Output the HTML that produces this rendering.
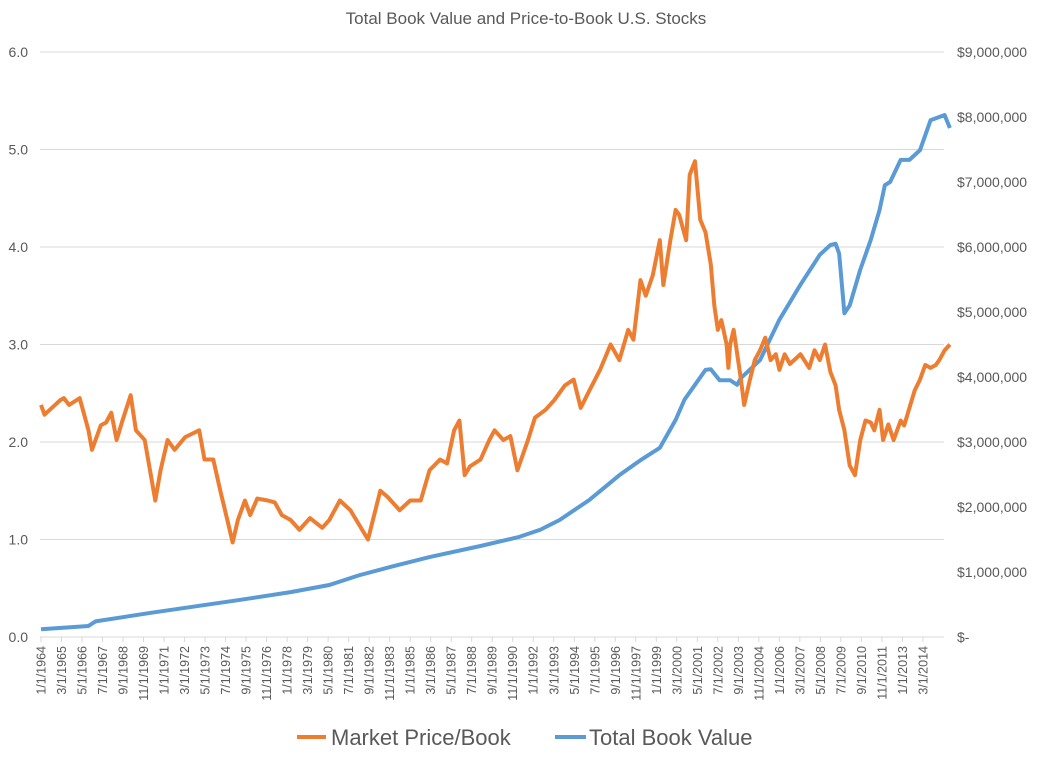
<!DOCTYPE html>
<html><head><meta charset="utf-8"><style>
body{margin:0;background:#fff;}
svg{display:block;font-family:"Liberation Sans",sans-serif;}
</style></head><body>
<svg id="chart" width="1062" height="761">
<text x="526" y="24" text-anchor="middle" font-size="17" fill="#595959">Total Book Value and Price-to-Book U.S. Stocks</text>
<g id="grid"></g><g id="ticks"></g><g id="lines"></g>
<g>
<line x1="297" y1="737" x2="326" y2="737" stroke="#ED7D31" stroke-width="4"/>
<text x="331" y="745" font-size="22" fill="#595959">Market Price/Book</text>
<line x1="555" y1="737" x2="586" y2="737" stroke="#5B9BD5" stroke-width="4"/>
<text x="589" y="745" font-size="22" fill="#595959">Total Book Value</text>
</g>
</svg>
<script>
const leftTicks=[0,1,2,3,4,5,6];
const rightTicks=["$-","$1,000,000","$2,000,000","$3,000,000","$4,000,000","$5,000,000","$6,000,000","$7,000,000","$8,000,000","$9,000,000"];
const xLabels=["1/1/1964","3/1/1965","5/1/1966","7/1/1967","9/1/1968","11/1/1969","1/1/1971","3/1/1972","5/1/1973","7/1/1974","9/1/1975","11/1/1976","1/1/1978","3/1/1979","5/1/1980","7/1/1981","9/1/1982","11/1/1983","1/1/1985","3/1/1986","5/1/1987","7/1/1988","9/1/1989","11/1/1990","1/1/1992","3/1/1993","5/1/1994","7/1/1995","9/1/1996","11/1/1997","1/1/1999","3/1/2000","5/1/2001","7/1/2002","9/1/2003","11/1/2004","1/1/2006","3/1/2007","5/1/2008","7/1/2009","9/1/2010","11/1/2011","1/1/2013","3/1/2014"];
const pbDates=[1964.0,1964.2,1965.1,1965.3,1965.6,1966.2,1966.7,1966.9,1967.4,1967.7,1968.0,1968.3,1968.6,1969.1,1969.4,1969.9,1970.5,1970.8,1971.2,1971.6,1972.2,1973.0,1973.3,1973.8,1974.2,1974.6,1974.9,1975.2,1975.6,1975.9,1976.3,1976.9,1977.3,1977.7,1978.2,1978.7,1979.3,1980.0,1980.4,1981.0,1981.6,1982.1,1982.6,1983.3,1983.7,1984.4,1985.0,1985.6,1986.1,1986.7,1987.1,1987.5,1987.8,1988.1,1988.4,1989.0,1989.5,1989.8,1990.3,1990.7,1991.1,1991.7,1992.1,1992.7,1993.2,1993.8,1994.3,1994.7,1995.2,1995.8,1996.4,1996.9,1997.4,1997.7,1998.1,1998.4,1998.8,1999.2,1999.4,1999.8,2000.1,2000.3,2000.7,2000.9,2001.2,2001.5,2001.8,2002.1,2002.3,2002.5,2002.7,2003.0,2003.1,2003.2,2003.4,2003.8,2004.0,2004.3,2004.6,2004.9,2005.2,2005.5,2005.8,2006.0,2006.3,2006.6,2007.2,2007.7,2008.0,2008.3,2008.6,2008.9,2009.2,2009.4,2009.7,2010.0,2010.3,2010.6,2010.9,2011.2,2011.4,2011.7,2011.9,2012.2,2012.5,2012.9,2013.1,2013.4,2013.7,2014.0,2014.3,2014.6,2014.9,2015.1,2015.4,2015.7];
const pbValues=[2.38,2.28,2.43,2.45,2.38,2.45,2.12,1.92,2.17,2.2,2.3,2.02,2.2,2.48,2.12,2.02,1.4,1.71,2.02,1.92,2.05,2.12,1.82,1.82,1.5,1.2,0.97,1.2,1.4,1.25,1.42,1.4,1.38,1.25,1.2,1.1,1.22,1.12,1.2,1.4,1.3,1.15,1.0,1.5,1.44,1.3,1.4,1.4,1.71,1.82,1.78,2.12,2.22,1.66,1.75,1.82,2.02,2.12,2.02,2.06,1.71,2.02,2.25,2.33,2.43,2.58,2.64,2.35,2.53,2.74,3.0,2.84,3.15,3.05,3.66,3.5,3.71,4.07,3.61,4.07,4.38,4.33,4.07,4.74,4.88,4.28,4.15,3.82,3.4,3.15,3.25,3.0,2.76,3.0,3.15,2.66,2.38,2.62,2.84,2.94,3.07,2.84,2.9,2.74,2.9,2.8,2.9,2.76,2.94,2.84,3.0,2.72,2.58,2.33,2.12,1.76,1.66,2.02,2.22,2.2,2.12,2.33,2.02,2.18,2.02,2.22,2.17,2.35,2.53,2.64,2.79,2.76,2.79,2.84,2.94,3.0];
const bvDates=[1964.0,1966.2,1966.7,1967.1,1970.2,1973.0,1975.3,1978.2,1980.4,1982.1,1983.9,1986.1,1989.0,1991.2,1992.4,1993.5,1995.2,1996.9,1998.1,1999.2,2000.1,2000.6,2001.2,2001.8,2002.1,2002.6,2003.2,2003.6,2003.8,2004.9,2006.0,2007.2,2008.3,2008.9,2009.2,2009.4,2009.7,2010.0,2010.6,2011.2,2011.7,2012.0,2012.3,2012.9,2013.4,2014.0,2014.6,2015.4,2015.7];
const bvValues=[0.12,0.16,0.17,0.24,0.37,0.48,0.57,0.69,0.8,0.95,1.08,1.23,1.4,1.54,1.65,1.8,2.11,2.49,2.72,2.91,3.34,3.65,3.88,4.11,4.12,3.95,3.95,3.88,3.98,4.26,4.88,5.42,5.88,6.03,6.05,5.9,4.98,5.1,5.65,6.11,6.57,6.95,7.0,7.34,7.34,7.49,7.95,8.03,7.83];

const NS="http://www.w3.org/2000/svg";
const X0=41,PXY=17.58,Y0=637;
const xs=d=>X0+(d-1964)*PXY;
const yL=v=>Y0-v*97.5;
const yR=m=>Y0-m*65;
function mk(tag,attrs,parent){const e=document.createElementNS(NS,tag);for(const k in attrs)e.setAttribute(k,attrs[k]);parent.appendChild(e);return e;}
const grid=document.getElementById('grid'),ticks=document.getElementById('ticks'),lines=document.getElementById('lines');
leftTicks.forEach(v=>{
  const g=mk('line',{x1:40,x2:944,y1:yL(v),y2:yL(v),stroke:'#d9d9d9','stroke-width':1},grid);
  
  
  const t=mk('text',{x:28,y:yL(v)+5,'text-anchor':'end','font-size':14,fill:'#595959'},ticks);
  t.textContent=v.toFixed(1);
  
  
});
rightTicks.forEach((s,i)=>{
  const t=mk('text',{x:957,y:yR(i)+5,'font-size':14,fill:'#595959'},ticks);
  t.textContent=s;
  
  
});
xLabels.forEach((s,i)=>{
  const p=s.split('/');const d=+p[2]+(+p[0]-1)/12;const x=xs(d);
  const tk=mk('line',{x1:x,x2:x,y1:637,y2:642,stroke:'#d9d9d9'},ticks);
  
  
  const t=mk('text',{x:0,y:0,'text-anchor':'end','font-size':12.5,fill:'#595959',transform:`translate(${x+4.5},646) rotate(-90)`},ticks);
  t.textContent=s;
  
  
});
const bv=mk('polyline',{points:bvDates.map((d,i)=>xs(d)+','+yR(bvValues[i])).join(' '),fill:'none',stroke:'#5B9BD5','stroke-width':4,'stroke-linejoin':'round'},lines);


const pb=mk('polyline',{points:pbDates.map((d,i)=>xs(d)+','+yL(pbValues[i])).join(' '),fill:'none',stroke:'#ED7D31','stroke-width':4,'stroke-linejoin':'round'},lines);


</script>
</body></html>
